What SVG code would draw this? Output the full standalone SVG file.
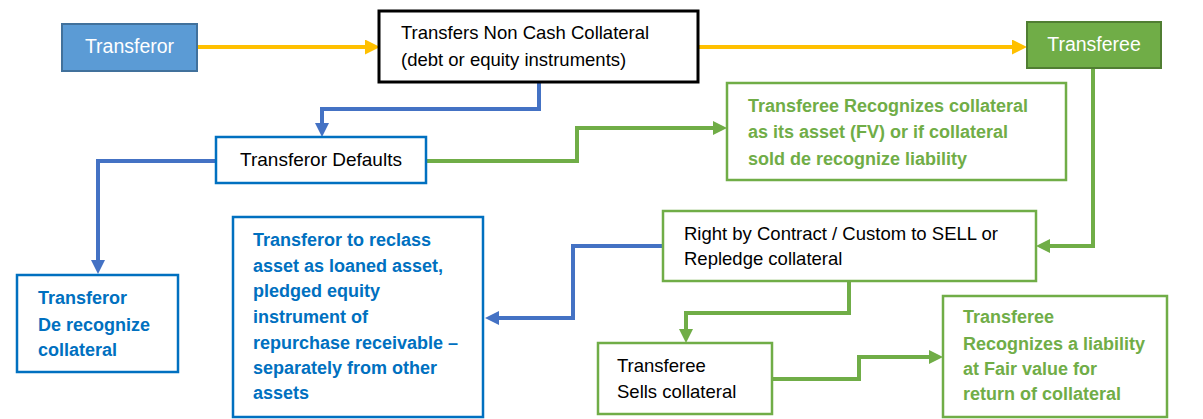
<svg xmlns="http://www.w3.org/2000/svg" width="1203" height="419" viewBox="0 0 1203 419">
<style>
.t{font-family:"Liberation Sans",Arial,sans-serif;font-size:18.5px;fill:#000}
.w{font-family:"Liberation Sans",Arial,sans-serif;font-size:19.5px;fill:#fff}
.bb{font-family:"Liberation Sans",Arial,sans-serif;font-size:18px;font-weight:bold;fill:#0070C0}
.bg{font-family:"Liberation Sans",Arial,sans-serif;font-size:18px;font-weight:bold;fill:#70AD47}
.boxb{fill:#fff;stroke:#0070C0;stroke-width:2.5}
.boxg{fill:#fff;stroke:#70AD47;stroke-width:2.5}
.cy{fill:none;stroke:#FFC000;stroke-width:4}
.cb{fill:none;stroke:#4472C4;stroke-width:4}
.cg{fill:none;stroke:#70AD47;stroke-width:4}
</style>
<defs>
<marker id="ay" markerUnits="userSpaceOnUse" markerWidth="15" markerHeight="15" refX="0" refY="7.5" orient="auto"><path d="M0,0 L15,7.5 L0,15z" fill="#FFC000"/></marker>
<marker id="ab" markerUnits="userSpaceOnUse" markerWidth="14" markerHeight="14" refX="0" refY="7" orient="auto"><path d="M0,0 L14,7 L0,14z" fill="#4472C4"/></marker>
<marker id="ag" markerUnits="userSpaceOnUse" markerWidth="14" markerHeight="14" refX="0" refY="7" orient="auto"><path d="M0,0 L14,7 L0,14z" fill="#70AD47"/></marker>
</defs>
<rect width="1203" height="419" fill="#fff"/>
<g id="connectors">
<path class="cy" d="M197,47 H365" marker-end="url(#ay)"/>
<path class="cy" d="M698,47 H1012" marker-end="url(#ay)"/>
<path class="cb" d="M539,82 V109 H322 V123" marker-end="url(#ab)"/>
<path class="cb" d="M216,161 H98 V260" marker-end="url(#ab)"/>
<path class="cg" d="M426,161 H577 V128 H713" marker-end="url(#ag)"/>
<path class="cg" d="M1093,68 V246 H1050" marker-end="url(#ag)"/>
<path class="cb" d="M663,246 H573 V318 H499" marker-end="url(#ab)"/>
<path class="cg" d="M849,281 V313 H686 V329" marker-end="url(#ag)"/>
<path class="cg" d="M772,379 H859 V357 H929" marker-end="url(#ag)"/>
</g>
<g id="transferor">
<rect x="62" y="24" width="135" height="47" fill="#5B9BD5" stroke="#41719C" stroke-width="2"/>
<text class="w" x="129.5" y="53" text-anchor="middle">Transferor</text>
</g>
<g id="transfers">
<rect x="379" y="11" width="319" height="71" fill="#fff" stroke="#000" stroke-width="3"/>
<text class="t" x="401" y="39">Transfers Non Cash Collateral</text>
<text class="t" x="401" y="66">(debt or equity instruments)</text>
</g>
<g id="transferee">
<rect x="1027" y="22" width="134" height="46" fill="#70AD47" stroke="#507E32" stroke-width="2"/>
<text class="w" x="1094" y="51" text-anchor="middle">Transferee</text>
</g>
<g id="defaults">
<rect class="boxb" x="216" y="137" width="210" height="46"/>
<text class="t" x="321" y="166" text-anchor="middle" style="font-size:19px">Transferor Defaults</text>
</g>
<g id="recognizes-asset">
<rect class="boxg" x="727" y="83" width="339" height="97"/>
<text class="bg" x="748" y="112">Transferee Recognizes collateral</text>
<text class="bg" x="748" y="138">as its asset (FV) or if collateral</text>
<text class="bg" x="748" y="165">sold de recognize liability</text>
</g>
<g id="derecognize">
<rect class="boxb" x="17" y="275" width="161" height="97"/>
<text class="bb" x="38" y="304">Transferor</text>
<text class="bb" x="38" y="331">De recognize</text>
<text class="bb" x="38" y="356">collateral</text>
</g>
<g id="reclass">
<rect class="boxb" x="233" y="217" width="250" height="200"/>
<text class="bb" x="253" y="246">Transferor to reclass</text>
<text class="bb" x="253" y="271.5">asset as loaned asset,</text>
<text class="bb" x="253" y="297">pledged equity</text>
<text class="bb" x="253" y="322.5">instrument of</text>
<text class="bb" x="253" y="349">repurchase receivable –</text>
<text class="bb" x="253" y="373.5">separately from other</text>
<text class="bb" x="253" y="399">assets</text>
</g>
<g id="right">
<rect class="boxg" x="663" y="211" width="373" height="70"/>
<text class="t" x="684" y="240">Right by Contract / Custom to SELL or</text>
<text class="t" x="684" y="265">Repledge collateral</text>
</g>
<g id="sells">
<rect class="boxg" x="598" y="343" width="174" height="71"/>
<text class="t" x="617" y="372">Transferee</text>
<text class="t" x="617" y="398">Sells collateral</text>
</g>
<g id="liability">
<rect class="boxg" x="943" y="296" width="224" height="121"/>
<text class="bg" x="963" y="323">Transferee</text>
<text class="bg" x="963" y="350">Recognizes a liability</text>
<text class="bg" x="963" y="375">at Fair value for</text>
<text class="bg" x="963" y="400">return of collateral</text>
</g>
</svg>
